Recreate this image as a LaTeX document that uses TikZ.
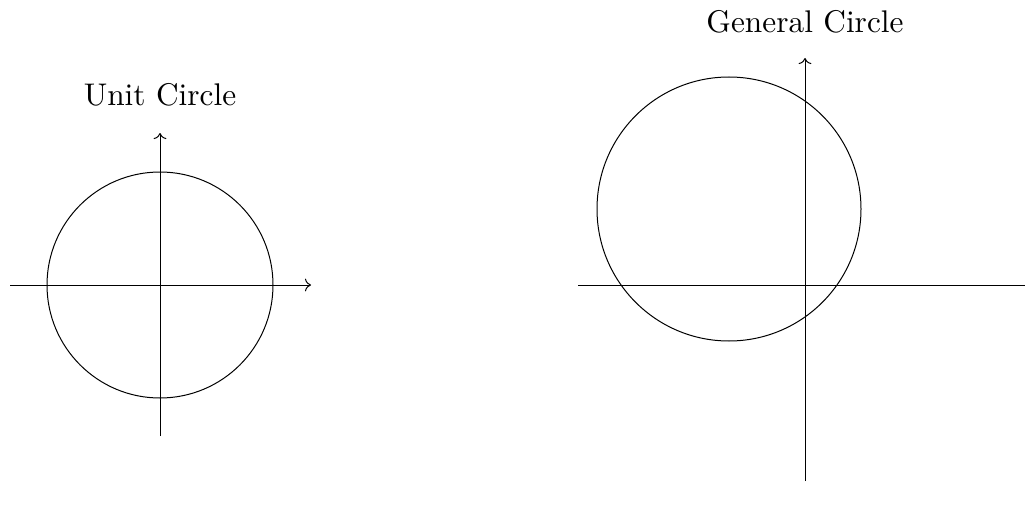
\documentclass[tikz,border=0pt]{standalone}
\usetikzlibrary{arrows.meta}
\begin{document}
\begin{tikzpicture}[x=0.75pt,y=-0.75pt,line width=0.75pt,
  axis/.style={-{To[scale=1.4]}},
  lbl/.style={scale=2.35,inner sep=0pt}]
\useasboundingbox (0,0) rectangle (1025,510);
% left
\coordinate (lxa) at (10,285);
\coordinate (lxb) at (311,285);
\coordinate (lya) at (160,436);
\coordinate (lyb) at (160,133);
\draw[axis] (lxa) -- (lxb);
\draw[axis] (lya) -- (lyb);
\node[draw,circle,minimum size=226*0.75pt,inner sep=0pt] (uc) at (160,285) {};
\node[lbl,anchor=base] (ulbl) at (160,106) {Unit Circle};
% right
\coordinate (rxa) at (578,285);
\coordinate (rxb) at (1040,285);
\coordinate (rya) at (805,481);
\coordinate (ryb) at (805,58);
\begin{scope}
\clip (0,0) rectangle (1025,510);
\draw[axis] (rxa) -- (rxb);
\end{scope}
\draw[axis] (rya) -- (ryb);
\node[draw,circle,minimum size=264*0.75pt,inner sep=0pt] (gc) at (729,209) {};
\node[lbl,anchor=base] (glbl) at (805,33) {General Circle};
\end{tikzpicture}
\end{document}
